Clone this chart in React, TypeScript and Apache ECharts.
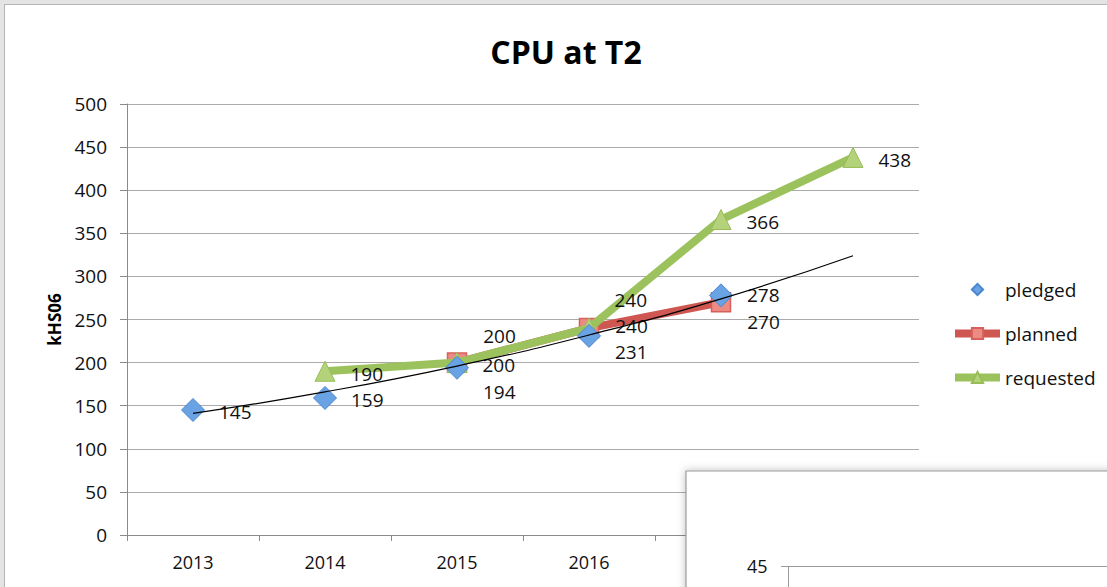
import React, { useEffect, useRef } from "react";
import * as echarts from "echarts";

const years = ["2013", "2014", "2015", "2016", "2017", "2018"];
const pledged = [145, 159, 194, 231, 278, null];
const planned = [null, null, 200, 240, 270, null];
const requested = [null, 190, 200, 240, 366, 438];
// exponential trendline of "pledged"
const pledgedTrend = [141, 166, 196, 232, 274, 324];

// vertical label shifts (px), per point
const pledgedLabelDy = [2, 2, 24, 16, 0, 0];
const plannedLabelDy = [0, 0, -27, -2, 20, 0];
const requestedLabelDy = [0, 3, 2, -28, 2, 3];

const FONT = "Open Sans";

function withLabels(values: (number | null)[], dys: number[]) {
  return values.map((v, i) =>
    v == null ? null : { value: v, label: { offset: [0, dys[i]] } }
  );
}

export default function App() {
  const ref = useRef<HTMLDivElement>(null);
  useEffect(() => {
    document.body.style.margin = "0";
    const chart = echarts.init(ref.current!, null, { renderer: "svg" });
    const labelStyle = {
      show: true,
      position: "right",
      fontSize: 19,
      lineHeight: 21,
      fontFamily: FONT,
      color: "#111",
    };
    chart.setOption({
      animation: false,
      backgroundColor: "#fff",
      title: {
        text: "CPU at T2",
        left: 561,
        top: 30,
        textAlign: "center",
        textStyle: { fontSize: 32, fontWeight: "bold", fontFamily: FONT, color: "#000" },
      },
      legend: {
        orient: "vertical",
        left: 951,
        top: 280,
        itemWidth: 45,
        itemHeight: 14,
        itemGap: 25,
        padding: 0,
        textStyle: { fontSize: 19, fontFamily: FONT, color: "#111" },
        data: [
          { name: "pledged" },
          { name: "planned", lineStyle: { width: 8, color: "#cf5751" } },
          { name: "requested", lineStyle: { width: 8, color: "#9cc25e" } },
        ],
      },
      grid: { left: 127, right: 188, top: 104, bottom: 52, containLabel: false },
      xAxis: {
        type: "category",
        data: years,
        boundaryGap: true,
        axisLine: { lineStyle: { color: "#8a8a8a", width: 1 } },
        axisTick: { show: true, length: 6, lineStyle: { color: "#8a8a8a" } },
        axisLabel: { fontSize: 18, fontFamily: FONT, color: "#111", margin: 18 },
      },
      yAxis: {
        type: "value",
        min: 0,
        max: 500,
        interval: 50,
        name: "kHS06",
        nameLocation: "middle",
        nameGap: 64,
        nameRotate: 90,
        nameTextStyle: { fontSize: 17, fontWeight: "bold", fontFamily: FONT, color: "#000" },
        axisLine: { show: true, lineStyle: { color: "#8a8a8a", width: 1 } },
        axisTick: { show: true, length: 7, lineStyle: { color: "#8a8a8a" } },
        axisLabel: { fontSize: 19, fontFamily: FONT, color: "#111", margin: 20 },
        splitLine: { lineStyle: { color: "#ababab", width: 1 } },
      },
      series: [
        {
          name: "planned",
          type: "line",
          data: withLabels(planned, plannedLabelDy),
          z: 2,
          symbol: "rect",
          symbolSize: 19,
          itemStyle: { color: "#ec8b84", borderColor: "#d8605a", borderWidth: 1.5 },
          lineStyle: { color: "#cf5751", width: 8 },
          label: { ...labelStyle, distance: 16 },
        },
        {
          name: "requested",
          type: "line",
          data: withLabels(requested, requestedLabelDy),
          z: 3,
          symbol: "triangle",
          symbolSize: 20,
          itemStyle: { color: "#b3d27a", borderColor: "#98bd58", borderWidth: 1 },
          lineStyle: { color: "#9cc25e", width: 8 },
          label: { ...labelStyle, distance: 15 },
        },
        {
          name: "pledged",
          type: "line",
          data: withLabels(pledged, pledgedLabelDy),
          z: 4,
          symbol: "diamond",
          symbolSize: 23,
          itemStyle: { color: "#6aa3e3", borderColor: "#4a86cf", borderWidth: 1 },
          lineStyle: { opacity: 0, width: 0 },
          label: { ...labelStyle, distance: 14 },
        },
        {
          name: "trend",
          type: "line",
          data: pledgedTrend,
          z: 5,
          smooth: true,
          symbol: "none",
          silent: true,
          lineStyle: { color: "#000", width: 1.2 },
        },
      ],
      graphic: [
        { type: "rect", z: 100, shape: { x: 0, y: 0, width: 1107, height: 4 }, style: { fill: "#e4e4e4" } },
        { type: "rect", z: 100, shape: { x: 0, y: 0, width: 4, height: 587 }, style: { fill: "#e4e4e4" } },
        { type: "line", z: 100, shape: { x1: 4, y1: 4.5, x2: 1107, y2: 4.5 }, style: { stroke: "#b5b5b5", lineWidth: 1 } },
        { type: "line", z: 100, shape: { x1: 4.5, y1: 4, x2: 4.5, y2: 587 }, style: { stroke: "#b5b5b5", lineWidth: 1 } },
        {
          type: "rect",
          z: 100,
          shape: { x: 686, y: 471, width: 440, height: 140 },
          style: {
            fill: "#fff",
            stroke: "#9a9a9a",
            lineWidth: 1.2,
            shadowBlur: 8,
            shadowColor: "rgba(0,0,0,0.25)",
          },
        },
        {
          type: "text",
          z: 101,
          x: 747,
          y: 557,
          style: { text: "45", fontSize: 18, fontFamily: FONT, fill: "#111" },
        },
        { type: "line", z: 101, shape: { x1: 781, y1: 566.5, x2: 1107, y2: 566.5 }, style: { stroke: "#9a9a9a", lineWidth: 1 } },
        { type: "line", z: 101, shape: { x1: 788.5, y1: 566, x2: 788.5, y2: 587 }, style: { stroke: "#9a9a9a", lineWidth: 1 } },
      ],
    });
    return () => chart.dispose();
  }, []);
  return <div ref={ref} style={{ position: "absolute", left: 0, top: 0, width: 1107, height: 587 }} />;
}
